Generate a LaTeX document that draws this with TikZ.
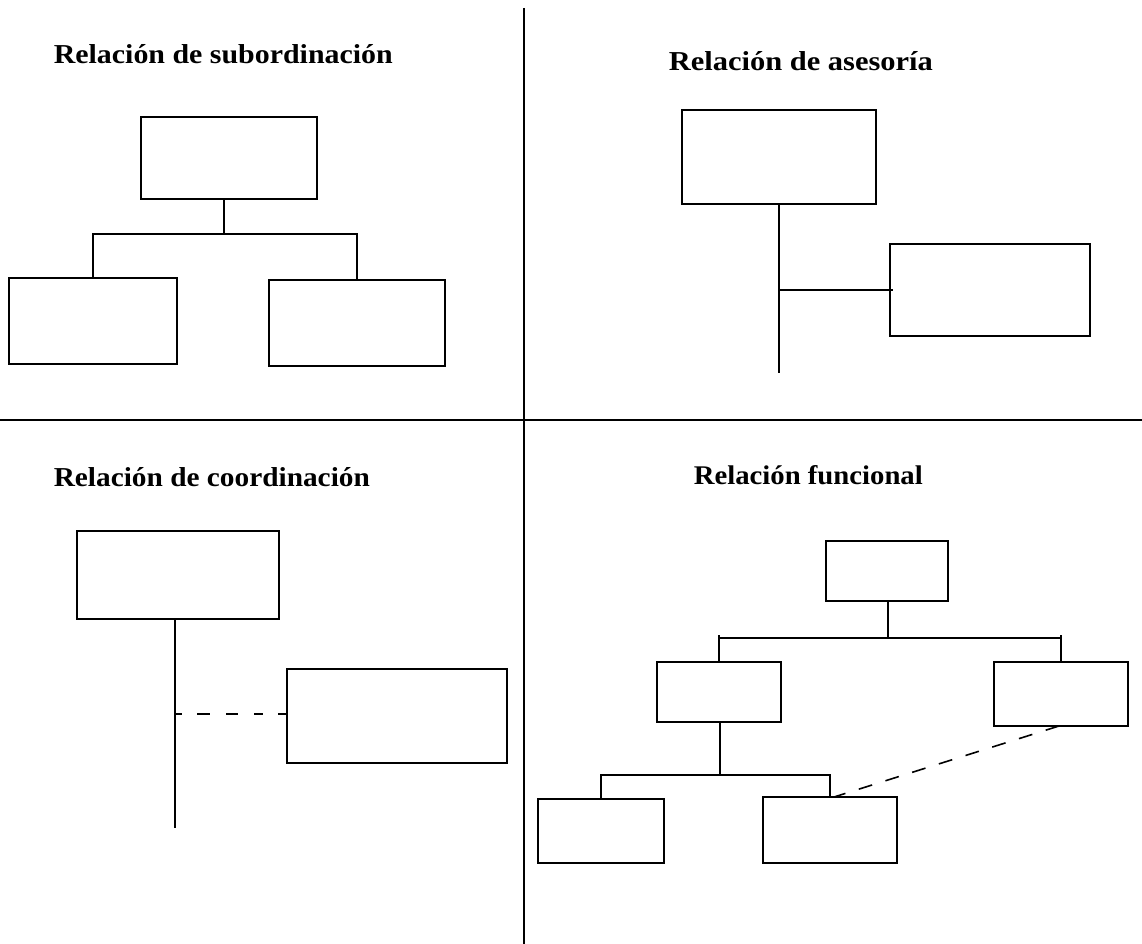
\documentclass[tikz,border=0pt]{standalone}
\usepackage{fontspec}
\setmainfont{Liberation Serif}
\usetikzlibrary{calc}
\begin{document}
\begin{tikzpicture}[x=1pt,y=-1pt,
  line width=1.6pt,
  box/.style={draw,rectangle,inner sep=0pt,outer sep=0pt},
  title/.style={anchor=base west,inner sep=0pt,font=\bfseries},
  divider/.style={line width=1.4pt}]
\useasboundingbox (0,0) rectangle (1142,944);
\fill[white] (0,0) rectangle (1142,944);
% dividers
\coordinate (vtop) at (524,8);
\coordinate (vbot) at (524,944);
\coordinate (hleft) at (0,420);
\coordinate (hright) at (1142,420);
\draw[divider] (vtop) -- (vbot);
\draw[divider] (hleft) -- (hright);
% titles
\node[title] (t1) at (53,64) {\resizebox{339pt}{19pt}{Relación de subordinación}};
\node[title] (t2) at (668,71) {\resizebox{264pt}{19pt}{Relación de asesoría}};
\node[title] (t3) at (53,486) {\resizebox{316pt}{19pt}{Relación de coordinación}};
\node[title] (t4) at (693,484) {\resizebox{229pt}{19pt}{Relación funcional}};
% Q1 subordinacion
\node[box,minimum width=176pt,minimum height=82pt] (a1) at (229,158) {};
\node[box,minimum width=168pt,minimum height=86pt] (a2) at (93,321) {};
\node[box,minimum width=176pt,minimum height=86pt] (a3) at (357,323) {};
\coordinate (j1) at (224,234);
\draw (j1 |- a1.south) -- (j1);
\draw (a2.north) -- (a2.north |- j1) -- (a3.north |- j1) -- (a3.north);
% Q2 asesoria
\node[box,minimum width=194pt,minimum height=94pt] (b1) at (779,157) {};
\node[box,minimum width=200pt,minimum height=92pt] (b2) at (990,290) {};
\coordinate (b1end) at (779,373);
\draw (b1.south) -- (b1.south |- b1end);
\draw (b1.south |- b2.west) -- ([xshift=3pt]b2.west);
% Q3 coordinacion
\node[box,minimum width=202pt,minimum height=88pt] (c1) at (178,575) {};
\node[box,minimum width=220pt,minimum height=94pt] (c2) at (397,716) {};
\coordinate (c1end) at (175,828);
\coordinate (cdash) at (175,714);
\draw (c1end |- c1.south) -- (c1end);
\draw[dash pattern=on 7pt off 15pt on 13pt off 16pt on 12pt off 16pt on 9pt off 15pt on 9pt off 20pt]
  (cdash) -- (cdash -| c2.west);
% Q4 funcional
\node[box,minimum width=122pt,minimum height=60pt] (d1) at (887,571) {};
\node[box,minimum width=124pt,minimum height=60pt] (d2) at (719,692) {};
\node[box,minimum width=134pt,minimum height=64pt] (d3) at (1061,694) {};
\node[box,minimum width=126pt,minimum height=64pt] (d4) at (601,831) {};
\node[box,minimum width=134pt,minimum height=66pt] (d5) at (830,830) {};
\coordinate (j4) at (888,638);
\coordinate (j5) at (720,775);
\draw (j4 |- d1.south) -- (j4);
\draw ([yshift=3pt]d2.north |- j4) -- (d2.north);
\draw ([yshift=3pt]d3.north |- j4) -- (d3.north);
\draw (d2.north |- j4) -- (d3.north |- j4);
\draw (j5 |- d2.south) -- (j5);
\draw (d4.north) -- (d4.north |- j5) -- (d5.north |- j5) -- (d5.north);
\draw[dash pattern=on 14pt off 14pt] ([xshift=-2pt]d3.south) -- ([xshift=4pt]d5.north);
\end{tikzpicture}
\end{document}
